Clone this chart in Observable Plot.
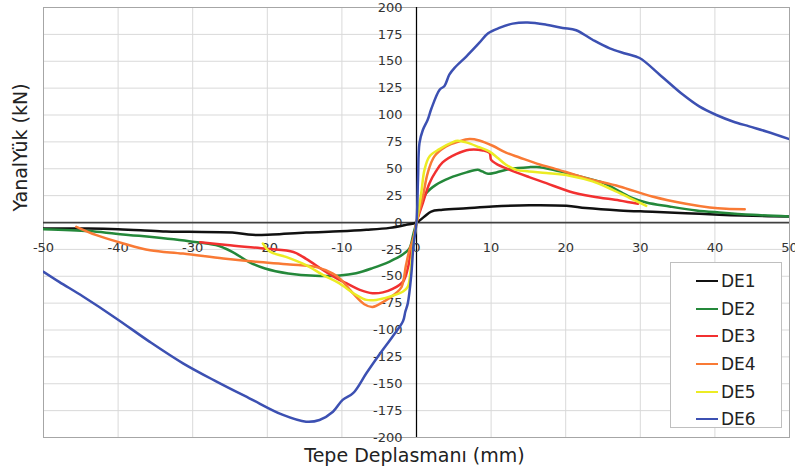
<!DOCTYPE html>
<html>
<head>
<meta charset="utf-8">
<script src="https://cdn.jsdelivr.net/npm/d3@7"></script>
<script src="https://cdn.jsdelivr.net/npm/@observablehq/plot@0.6"></script>
<style>
  body { margin: 0; background: white; }
  #wrap { position: relative; width: 795px; height: 475px; font-family: "DejaVu Sans", Verdana, sans-serif; }
  #legend { position: absolute; left: 670px; top: 262px; width: 112px; height: 166px; border: 1px solid #bfbfbf; background: white; box-sizing: border-box; padding-top: 4px; }
  .item { display: flex; align-items: center; height: 27.7px; font-size: 17px; color: #222; }
  .sw { width: 22px; height: 0; border-top: 2.5px solid; margin-left: 25px; margin-right: 3px; }
</style>
</head>
<body>
<div id="wrap"><div id="legend"></div></div>
<script>
const seriesNames = ["DE1", "DE2", "DE3", "DE4", "DE5", "DE6"];
const seriesColors = ["#111111", "#24883a", "#f23030", "#f97a35", "#ecec24", "#3c50b2"];
const xTicks = [-50, -40, -30, -20, -10, 0, 10, 20, 30, 40, 50];
const yTicks = [-200, -175, -150, -125, -100, -75, -50, -25, 0, 25, 50, 75, 100, 125, 150, 175, 200];
const xTitle = "Tepe Deplasmanı (mm)";
const yTitle = "YanalYük (kN)";

const DE1 = [[-50,-5.5],[-44,-5.6],[-40,-6.2],[-37,-7.1],[-33.6,-8.4],[-30.5,-8.7],[-24.7,-9.3],[-22,-11.5],[-19.3,-11.1],[-14.8,-9.3],[-10.3,-8.2],[-6.7,-6.8],[-3.6,-5],[-1.4,-2.2],[0,0],
  [1.07,5.6],[1.97,10.2],[3.5,11.8],[6.7,13.3],[10.2,14.9],[15.1,16],[20.1,15.5],[22.7,13.4],[27.2,11.2],[31.6,10],[36.1,8.7],[40.6,7.2],[45.1,6.2],[50,5.6]];
const DE2 = [[-50,-6.2],[-43.9,-8],[-40.3,-10.5],[-37.2,-12.4],[-30.5,-17.4],[-26.9,-21],[-24.7,-27.3],[-22.5,-36.6],[-20.3,-42.8],[-17.2,-47.4],[-13.6,-49.6],[-10.3,-49.3],[-8.1,-47.2],[-5.9,-42.5],[-3.6,-36.3],[-1.8,-29.5],[-0.94,-24],[-0.4,-10],[0,0],
  [0.63,18],[1.3,27.3],[2.6,35],[4.4,41.3],[6.7,46.6],[8.2,49],[8.8,47.5],[9.6,45.3],[10.7,46.6],[12.5,49.7],[15.1,51.5],[16.1,51.6],[18.3,49.1],[21.9,42.8],[25.1,36.6],[27.2,28.9],[29,22.7],[30.8,18.6],[33.9,14.9],[37.5,11.2],[40.6,9.3],[45.1,7.1],[50,5.6]];
const DE3 = [[-29,-18.3],[-25.4,-21],[-20.1,-24.5],[-16.5,-27.5],[-14.8,-33.8],[-12.5,-44.4],[-10.7,-52],[-9.4,-56.5],[-7.6,-62.7],[-5.9,-65.8],[-4.5,-65],[-3.2,-61.8],[-1.8,-55],[-1.16,-42.5],[-0.7,-24],[-0.2,-8.4],[0,0],
  [0.85,18],[1.74,36.6],[2.6,47.5],[3.5,55.9],[5.3,63.6],[7.1,67.7],[8.9,67],[9.8,64.6],[10,58.3],[10.7,54.6],[12.5,49],[15.1,42.2],[17.4,36.6],[20.5,28.9],[23.6,24.2],[27.2,20.5],[29.7,17.4]];
const DE4 = [[-45.6,-4],[-42.9,-11.8],[-39.3,-19.5],[-35.7,-25.8],[-31.3,-28.9],[-25.9,-33.5],[-21.5,-36.6],[-17,-39],[-13.4,-41.5],[-11.2,-47.5],[-10.3,-52],[-8.5,-66],[-7,-76],[-5.9,-78.5],[-4.5,-74],[-2.8,-66],[-2,-60],[-1.4,-39.4],[-0.94,-25.4],[-0.4,-14.6],[0,0],
  [0.85,24],[1.5,46],[2.4,61.5],[3.97,70.8],[5.7,75.4],[7.1,77.6],[8.4,76.3],[10.2,71.4],[12,65],[13.8,60.5],[16.5,54],[18.3,50.6],[22.7,41.3],[27.2,33.5],[31.6,24.2],[36.1,17.4],[39.3,14],[41.5,12.7],[44,12.4]];
const DE5 = [[-20.6,-19.5],[-19.7,-27],[-17.5,-32],[-14.8,-39.7],[-12.5,-49],[-10.5,-56],[-8.1,-67.3],[-6.7,-72],[-5.4,-72],[-3.6,-69],[-1.8,-64.2],[-1.16,-59.6],[-0.8,-45.6],[-0.5,-24],[-0.13,-6.8],[0,0],
  [0.63,27],[1.07,49],[1.74,61.5],[3.08,68.3],[4.87,74.8],[5.5,76],[6.66,74.5],[8.4,70],[9.8,66],[10.9,60],[12,53.7],[13.4,49],[15.1,47.5],[17.4,46],[20.5,43.5],[23.6,38.2],[26.3,30.4],[28.6,22.7],[30.8,15.5]];
const DE6 = [[-50,-45.8],[-47.9,-55.2],[-44.7,-68.9],[-40.3,-89],[-35.8,-110.8],[-31.3,-131],[-26.8,-148],[-22.4,-163.5],[-17.9,-179],[-14.8,-185.3],[-13,-183.7],[-11.2,-176],[-9.9,-165],[-8.5,-158.8],[-6.7,-140],[-5,-123],[-3.2,-106],[-1.8,-91.6],[-1.5,-83],[-1.16,-75],[-0.7,-48.7],[-0.4,-20.8],[0,0],
  [0.2,40],[0.4,74],[0.85,86],[1.5,95.6],[2.0,106],[3.1,123.5],[3.75,127],[4.4,137.5],[5.1,143.8],[6.7,154.6],[8.4,167],[9.6,176],[11.1,181],[12.9,185],[14.9,186],[17.4,184],[19.6,181],[21.4,178.8],[23.6,170],[25.9,162],[28.1,157],[29.9,153],[32.6,137.5],[35.7,119],[37.9,108],[40.2,100],[42.4,94],[44.6,89.4],[46.9,84.7],[50,77.5]];

const seriesData = [DE1, DE2, DE3, DE4, DE5, DE6];
const rows = seriesData.flatMap((pts, i) => pts.map(([x, y]) => ({series: seriesNames[i], x, y})));

const chart = Plot.plot({
  width: 795, height: 475,
  marginLeft: 43, marginRight: 6, marginTop: 7, marginBottom: 38,
  x: {domain: [-50, 50], axis: null},
  y: {domain: [-200, 200], axis: null},
  color: {domain: seriesNames, range: seriesColors},
  style: {fontFamily: "DejaVu Sans, Verdana, sans-serif", background: "white", overflow: "visible"},
  marks: [
    Plot.gridX(xTicks, {stroke: "#d9d9d9", strokeOpacity: 1}),
    Plot.gridY(yTicks, {stroke: "#d9d9d9", strokeOpacity: 1}),
    Plot.frame({stroke: "#a6a6a6"}),
    Plot.ruleY([0], {stroke: "#404040", strokeWidth: 1.75}),
    Plot.ruleX([0], {stroke: "#000", strokeWidth: 1.25}),
    Plot.text(xTicks, {x: d => d, y: 0, dy: 25.5, fontSize: 13, fill: "#333"}),
    Plot.text(yTicks, {x: 0, y: d => d, dx: -14, textAnchor: "end", fontSize: 13, fill: "#333"}),
    Plot.line(rows, {x: "x", y: "y", z: "series", stroke: "series", strokeWidth: 2.5, curve: "catmull-rom", clip: true}),
    Plot.text([xTitle], {frameAnchor: "bottom", lineAnchor: "top", dy: 11, dx: -2, fontSize: 19, fill: "#222"}),
    Plot.text([yTitle], {frameAnchor: "left", rotate: -90, dx: -23, dy: -11, fontSize: 19, fill: "#222"})
  ]
});
document.getElementById("wrap").prepend(chart);

const legend = document.getElementById("legend");
seriesNames.forEach((name, i) => {
  const item = document.createElement("div");
  item.className = "item";
  const sw = document.createElement("span");
  sw.className = "sw";
  sw.style.borderTopColor = seriesColors[i];
  const label = document.createElement("span");
  label.textContent = name;
  item.append(sw, label);
  legend.append(item);
});
</script>
</body>
</html>
